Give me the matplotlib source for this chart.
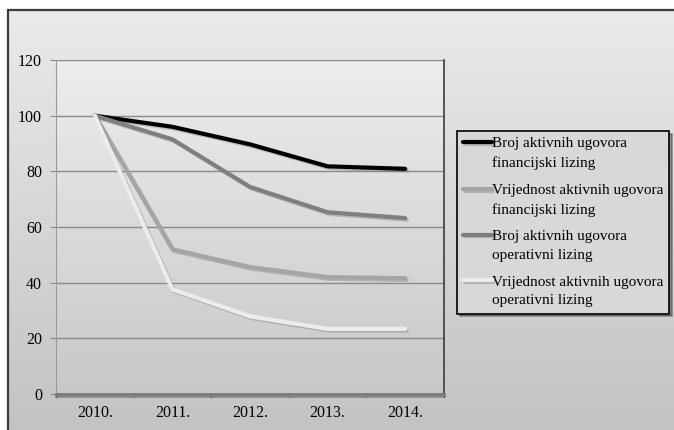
import numpy as np
import matplotlib.pyplot as plt
import matplotlib.patheffects as pe
from matplotlib.patches import Rectangle
from matplotlib.colors import LinearSegmentedColormap
from matplotlib.legend_handler import HandlerLine2D

plt.rcParams['font.family'] = ['Liberation Serif', 'DejaVu Serif']

years = ['2010.', '2011.', '2012.', '2013.', '2014.']

# index values, 2010 = 100
broj_fin = [100, 96.0, 89.7, 81.8, 80.9]
vrij_fin = [100, 52.0, 45.6, 42.0, 41.6]
broj_op = [100, 91.5, 74.4, 65.3, 63.2]
vrij_op = [100, 37.6, 27.9, 23.4, 23.4]

labels = ['Broj aktivnih ugovora\nfinancijski lizing',
          'Vrijednost aktivnih ugovora\nfinancijski lizing',
          'Broj aktivnih ugovora\noperativni lizing',
          'Vrijednost aktivnih ugovora\noperativni lizing']
series = [broj_fin, vrij_fin, broj_op, vrij_op]
colors = ['#000000', '#a5a5a5', '#7f7f7f', '#ececec']


class TopLineHandler(HandlerLine2D):
    # put the legend line next to the first text line, not the middle
    def create_artists(self, legend, orig_handle, xdescent, ydescent,
                       width, height, fontsize, trans):
        arts = super().create_artists(legend, orig_handle, xdescent, ydescent,
                                      width, height, fontsize, trans)
        for a in arts:
            a.set_ydata(np.asarray(a.get_ydata()) + fontsize * 0.72)
        return arts


W, H = 674, 430
fig = plt.figure(figsize=(W / 100, H / 100), dpi=100)
fig.patch.set_facecolor('white')

bg_cmap = LinearSegmentedColormap.from_list('bg', ['#eaeaea', '#c3c3c3'])
pa_cmap = LinearSegmentedColormap.from_list('pa', ['#ededed', '#c8c8c8'])
grad = np.linspace(0, 1, 256).reshape(-1, 1)

# chart area background inside the outer frame
bg = fig.add_axes([8 / W, 0, 1 - 8 / W, 1 - 10 / H], zorder=-10)
bg.imshow(grad, aspect='auto', cmap=bg_cmap, extent=[0, 1, 0, 1], origin='upper')
bg.set_axis_off()
fig.patches.append(Rectangle((8 / W, -0.05), 1.0, 1 - 10 / H + 0.05,
                             transform=fig.transFigure, fill=False,
                             ec='#3a3a3a', lw=1.6, zorder=5))

ax = fig.add_axes([56 / W, (H - 394) / H, 388 / W, 334 / H])
ax.imshow(grad, aspect='auto', cmap=pa_cmap,
          extent=[-0.5, 4.5, 0, 120], origin='upper', zorder=0)

x = np.arange(len(years))
shadow = [pe.SimpleLineShadow(offset=(1.2, -1.2), shadow_color='#606060', alpha=0.3),
          pe.Normal()]
for vals, c, lab in zip(series, colors, labels):
    ax.plot(x, vals, color=c, lw=3, label=lab, zorder=3,
            solid_capstyle='round', path_effects=shadow)

ax.set_xlim(-0.5, 4.5)
ax.set_ylim(0, 120)
ax.set_yticks(range(0, 121, 20))
ax.grid(axis='y', color='#8a8a8a', lw=1)
ax.set_axisbelow(True)
ax.set_xticks(x)
ax.set_xticklabels(years)
ax.set_xticks(np.arange(-0.5, 4.6, 1), minor=True)
ax.tick_params(axis='x', which='major', length=0, pad=8, labelsize=11.5)
ax.tick_params(axis='x', which='minor', length=3, color='#8a8a8a')
ax.tick_params(axis='y', length=4, color='#8a8a8a', pad=6, labelsize=11.5)
ax.spines['top'].set_visible(False)
ax.spines['right'].set_color('#3c3c3c')
ax.spines['right'].set_linewidth(1.2)
ax.spines['left'].set_color('#9a9a9a')
ax.spines['bottom'].set_color('#7a7a7a')
ax.spines['bottom'].set_linewidth(2)
ax.spines['bottom'].set_path_effects([pe.SimpleLineShadow(offset=(0, -1.5), alpha=0.3),
                                      pe.Normal()])

leg = fig.legend(loc='upper left', bbox_to_anchor=(457 / W, 1 - 131 / H),
                 fontsize=11.0, frameon=True, fancybox=False, shadow=True,
                 handlelength=1.85, handletextpad=0.0, labelspacing=0.9,
                 borderpad=0.42, borderaxespad=0,
                 handler_map={plt.Line2D: TopLineHandler()})
for t in leg.get_texts():
    t.set_linespacing(1.55)
leg.get_frame().set_edgecolor('black')
leg.get_frame().set_facecolor('#d8d8d8')
leg.get_frame().set_linewidth(1.2)

fig.savefig('out.png', dpi=100)
